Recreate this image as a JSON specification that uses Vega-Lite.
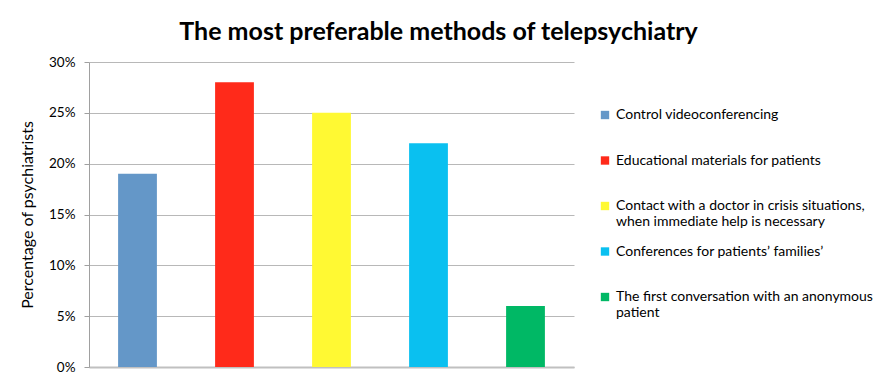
{
  "$schema": "https://vega.github.io/schema/vega-lite/v6.json",
  "width": 485,
  "height": 305,
  "autosize": {"type": "none"},
  "padding": {"left": 89, "top": 62, "right": 305, "bottom": 16},
  "background": "white",
  "title": {
    "text": "The most preferable methods of telepsychiatry",
    "font": "Lato",
    "fontSize": 25,
    "fontWeight": "bold",
    "color": "#000000",
    "anchor": "middle",
    "frame": "group",
    "dx": 107,
    "offset": 10
  },
  "data": {
    "values": [
      {"method": "Control videoconferencing", "pct": 0.19},
      {"method": "Educational materials for patients", "pct": 0.28},
      {"method": "Contact with a doctor in crisis situations, when immediate help is necessary", "pct": 0.25},
      {"method": "Conferences for patients’ families’", "pct": 0.22},
      {"method": "The first conversation with an anonymous patient", "pct": 0.06}
    ]
  },
  "mark": {"type": "bar"},
  "encoding": {
    "x": {
      "field": "method",
      "type": "nominal",
      "sort": null,
      "scale": {"paddingInner": 0.6, "paddingOuter": 0.3},
      "axis": {
        "title": null,
        "labels": false,
        "ticks": false,
        "domainColor": "#c0c0c0",
        "domainWidth": 2
      }
    },
    "y": {
      "field": "pct",
      "type": "quantitative",
      "scale": {"domain": [0, 0.3]},
      "axis": {
        "title": "Percentage of psychiatrists",
        "titleFont": "Lato",
        "titleFontSize": 16,
        "titleFontWeight": "normal",
        "titleColor": "#000000",
        "titlePadding": 13,
        "values": [0, 0.05, 0.1, 0.15, 0.2, 0.25, 0.3],
        "format": ".0%",
        "labelFont": "Lato",
        "labelFontSize": 13.5,
        "labelColor": "#000000",
        "labelPadding": 9,
        "tickSize": 5,
        "tickColor": "#a0a0a0",
        "domainColor": "#a0a0a0",
        "gridColor": "#b8b8b8",
        "grid": true
      }
    },
    "color": {
      "field": "method",
      "type": "nominal",
      "sort": null,
      "scale": {
        "range": ["#6497c8", "#ff2a1a", "#fff933", "#0ac0f0", "#00b865"]
      },
      "legend": {
        "title": null,
        "orient": "none",
        "legendX": 509,
        "legendY": 46,
        "symbolType": "square",
        "symbolSize": 70,
        "symbolStrokeWidth": 0,
        "labelFont": "Lato",
        "labelFontSize": 14,
        "labelLineHeight": 18,
        "labelColor": "#000000",
        "labelOffset": 4,
        "labelLimit": 400,
        "gridAlign": "all",
        "rowPadding": 15.5,
        "labelExpr": "datum.label == 'Contact with a doctor in crisis situations, when immediate help is necessary' ? ['Contact with a doctor in crisis situations,', 'when immediate help is necessary'] : datum.label == 'The first conversation with an anonymous patient' ? ['The first conversation with an anonymous', 'patient'] : datum.label"
      }
    }
  },
  "config": {"view": {"stroke": null}}
}
